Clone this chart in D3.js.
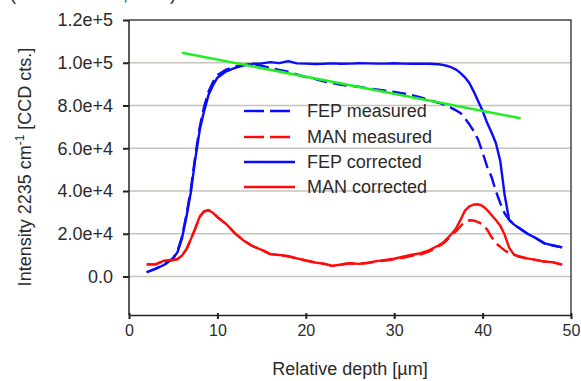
<!DOCTYPE html>
<html>
<head>
<meta charset="utf-8">
<script src="https://cdn.jsdelivr.net/npm/d3@7/dist/d3.min.js"></script>
<style>
  html, body { margin: 0; padding: 0; background: #fff; }
  svg { display: block; }
  text { font-family: "Liberation Sans", Arial, sans-serif; fill: #2a2a2a; }
</style>
</head>
<body>
<div id="chart"></div>
<script>
// Depth positions (µm) shared by the four profiles
const depth = [2, 3, 4, 5, 5.5, 6, 6.5, 7, 7.5, 8, 8.5, 9, 9.5, 10,
  11, 12, 13, 14, 15, 16, 17, 18, 19, 20, 21, 22, 23, 24, 25, 26, 27, 28, 29, 30,
  31, 32, 33, 34, 35, 35.5, 36, 36.5, 37, 37.5, 38, 38.5, 39, 39.5, 40, 40.5,
  41, 41.5, 42, 42.5, 43, 43.5, 44, 45, 46, 47, 48, 49];

const fepMeasured = [2000, 3700, 5600, 8700, 12000, 18800, 29000, 41000, 56500, 70000, 79500, 86500, 91000, 94200,
  96800, 98200, 99000, 99300, 98600, 97500, 96600, 95800, 94500, 93300, 92500, 91300, 90500, 89700, 89200, 88800, 88000, 87500, 86900, 86300,
  85700, 84800, 83800, 82500, 81300, 80600, 80000, 78800, 77700, 76500, 74000, 71200, 68000, 64000, 58000, 51500,
  46700, 40000, 34300, 29500, 26500, 24500, 23000, 20200, 18000, 15500, 14500, 13600];

const manMeasured = [5700, 5700, 7400, 7700, 8200, 9800, 12800, 17500, 22500, 28000, 30500, 31000, 29800, 27800,
  24500, 20200, 16700, 14200, 12500, 10500, 10100, 9500, 8500, 7500, 6600, 6000, 5000, 5600, 6200, 5900, 6300, 7000, 7500, 8000,
  8800, 9700, 10400, 11800, 14000, 15300, 17200, 19300, 21200, 23500, 25800, 26300, 26200, 25400, 24500, 22000,
  18600, 15500, 13900, 12200, 11000, 10200, 9500, 8500, 7800, 7000, 6600, 5600];

const fepCorrected = [2000, 3600, 5500, 8500, 11500, 18000, 28000, 39500, 55000, 68500, 77500, 85000, 89500, 93000,
  96000, 97600, 98800, 99500, 99700, 100300, 99800, 100800, 99700, 99600, 99400, 99500, 99700, 99500, 99600, 99800, 99700, 99600, 99600, 99800,
  99600, 99500, 99600, 99500, 99300, 99000, 98500, 97800, 96800, 95200, 93200, 90500, 86500, 82000, 77500, 72000,
  67500, 62500, 54000, 38000, 26500, 24500, 23000, 20200, 18000, 15500, 14500, 13600];

const manCorrected = [5700, 5700, 7400, 7700, 8200, 9800, 12800, 17500, 22500, 28000, 30500, 31000, 29800, 27800,
  24500, 20200, 16700, 14200, 12500, 10500, 10100, 9500, 8500, 7500, 6600, 6000, 5000, 5600, 6200, 5900, 6500, 7200, 7800, 8300,
  9300, 10200, 10900, 12400, 14500, 15800, 17800, 20000, 22500, 26500, 30800, 32800, 33700, 33800, 33000, 31200,
  28800, 26400, 23800, 19500, 13500, 10500, 9500, 8500, 7800, 7000, 6600, 5600];

// Linear trend drawn over the FEP plateau
const trendDepth = [6, 44.3];
const trendValue = [104700, 74000];

// Axis ticks
const xTicks = [0, 10, 20, 30, 40, 50];
const yTicks = [0, 20000, 40000, 60000, 80000, 100000, 120000];
const yTickLabels = ["0.0", "2.0e+4", "4.0e+4", "6.0e+4", "8.0e+4", "1.0e+5", "1.2e+5"];

// Legend entries
const seriesNames = ["FEP measured", "MAN measured", "FEP corrected", "MAN corrected"];
const seriesValues = [fepMeasured, manMeasured, fepCorrected, manCorrected];
const seriesColors = ["#0a0aff", "#ff0a0a", "#0a0aff", "#ff0a0a"];
const seriesDashed = [true, true, false, false];

const W = 581, H = 381;
const margin = { top: 20, right: 10, bottom: 66, left: 129 };

const svg = d3.select("#chart").append("svg")
  .attr("width", W).attr("height", H);

const x = d3.scaleLinear().domain([0, 50]).range([margin.left, W - margin.right]);
const y = d3.scaleLinear().domain([-18000, 120000]).range([H - margin.bottom, margin.top]);

// Clipped header text above the plot
svg.append("g").selectAll("text")
  .data([{ t: "(", px: 10 }, { t: ",", px: 123 }, { t: ")", px: 170 }])
  .join("text")
  .attr("x", d => d.px).attr("y", 0)
  .attr("font-size", 18)
  .text(d => d.t);

// Horizontal gridlines
svg.append("g").selectAll("line")
  .data(yTicks.filter(v => v < 120000))
  .join("line")
  .attr("x1", x(0)).attr("x2", x(50))
  .attr("y1", d => y(d)).attr("y2", d => y(d))
  .attr("stroke", "#c4c4bc").attr("stroke-width", 1.6);

// Plot frame (top and right)
svg.append("path")
  .attr("d", `M${x(0)},${y(120000)}H${x(50)}V${y(-18000)}`)
  .attr("fill", "none").attr("stroke", "#444").attr("stroke-width", 1.5);

// Y axis
const yAxis = svg.append("g")
  .attr("transform", `translate(${x(0)},0)`)
  .call(d3.axisLeft(y).tickValues(yTicks).tickSize(6).tickPadding(10)
    .tickFormat((d, i) => yTickLabels[i]));
yAxis.select(".domain").attr("d", `M0,${y(120000)}V${y(-18000)}`)
  .attr("stroke", "#222").attr("stroke-width", 1.5);
yAxis.selectAll(".tick line").attr("stroke", "#222").attr("stroke-width", 2);
yAxis.selectAll(".tick text").attr("font-size", 18)
  .attr("font-family", "Liberation Sans, Arial, sans-serif").attr("fill", "#2a2a2a");

// X axis
const xAxis = svg.append("g")
  .attr("transform", `translate(0,${y(-18000)})`)
  .call(d3.axisBottom(x).tickValues(xTicks).tickSize(4).tickPadding(6).tickSizeOuter(0));
xAxis.select(".domain").attr("stroke", "#222").attr("stroke-width", 1.5);
xAxis.selectAll(".tick line").attr("y1", -2).attr("stroke", "#222").attr("stroke-width", 2);
xAxis.selectAll(".tick text").attr("font-size", 16)
  .attr("font-family", "Liberation Sans, Arial, sans-serif").attr("fill", "#2a2a2a");

// Axis titles
svg.append("text")
  .attr("x", (x(0) + x(50)) / 2).attr("y", 375)
  .attr("text-anchor", "middle").attr("font-size", 18)
  .text("Relative depth [µm]");

const yTitle = svg.append("text")
  .attr("transform", "translate(31,167) rotate(-90)")
  .attr("text-anchor", "middle").attr("font-size", 18);
yTitle.append("tspan").text("Intensity 2235 cm");
yTitle.append("tspan").attr("font-size", 12).attr("dy", -7).text("-1");
yTitle.append("tspan").attr("dy", 7).text(" [CCD cts.]");

// Profiles
const line = d3.line().x(d => x(d[0])).y(d => y(d[1]));
const plot = svg.append("g");

// draw order: corrected first, measured dashed on top
[2, 3, 0, 1].forEach(i => {
  plot.append("path")
    .datum(depth.map((dd, k) => [dd, seriesValues[i][k]]))
    .attr("d", line)
    .attr("fill", "none")
    .attr("stroke", seriesColors[i])
    .attr("stroke-width", 2.4)
    .attr("stroke-linejoin", "round")
    .attr("stroke-dasharray", seriesDashed[i] ? "14,6" : null);
});

// Trend line
plot.append("path")
  .datum(trendDepth.map((dd, k) => [dd, trendValue[k]]))
  .attr("d", line)
  .attr("fill", "none").attr("stroke", "#22ee22").attr("stroke-width", 2.6);

// Legend (transparent, gridlines show through)
const legendRowsY = [111, 137, 162, 187];
const legend = svg.append("g");
seriesNames.forEach((name, i) => {
  const ly = legendRowsY[i];
  legend.append("line")
    .attr("x1", 244).attr("x2", 295).attr("y1", ly).attr("y2", ly)
    .attr("stroke", seriesColors[i]).attr("stroke-width", 2.4)
    .attr("stroke-dasharray", seriesDashed[i] ? "20,6" : null);
  legend.append("text")
    .attr("x", 307).attr("y", ly + 6)
    .attr("font-size", 18)
    .text(name);
});
</script>
</body>
</html>
